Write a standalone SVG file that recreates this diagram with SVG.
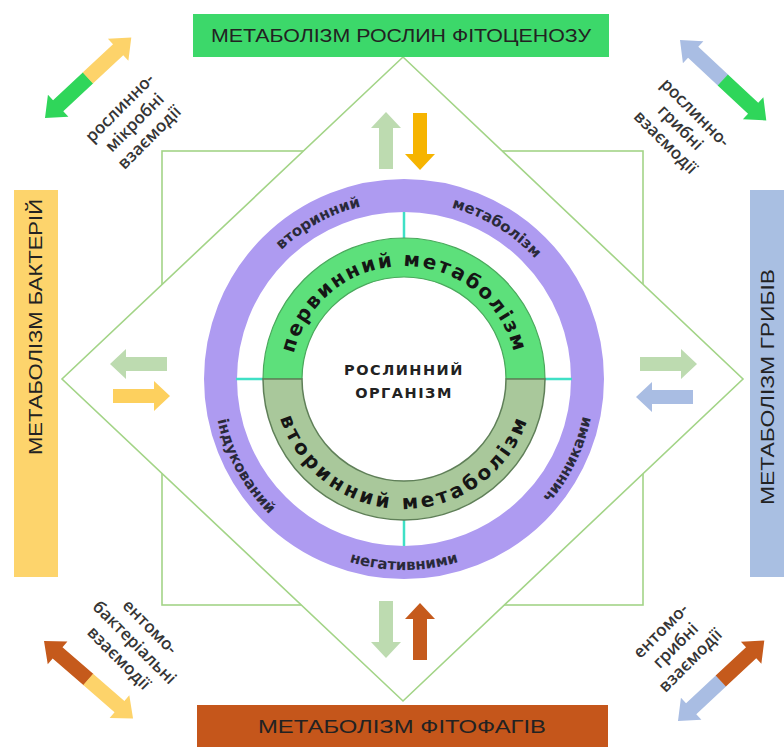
<svg xmlns="http://www.w3.org/2000/svg" xmlns:xlink="http://www.w3.org/1999/xlink" width="784" height="747" viewBox="0 0 784 747">
<style>
.frame{fill:none;stroke:#a3d487;stroke-width:1.6}
.diam{fill:#fff;stroke:#a3d487;stroke-width:1.6}
.ban{font-family:"Liberation Sans",Arial,sans-serif;font-size:18px;fill:#222;text-anchor:middle}
.diag{font-family:"Open Sans","Noto Sans",sans-serif;font-size:17px;font-weight:600;fill:#353535;text-anchor:middle}
.ring{font-family:"DejaVu Sans",Verdana,sans-serif;font-size:15px;font-weight:bold;fill:#2a2a3a;text-anchor:middle}
.gring{font-family:"DejaVu Sans",Verdana,sans-serif;font-size:20px;font-weight:bold;fill:#151515;text-anchor:middle}
.center{font-family:"DejaVu Sans",Verdana,sans-serif;font-size:14.5px;font-weight:bold;fill:#222;text-anchor:middle;letter-spacing:1.5px}
.cyan{stroke:#3fe0c6;stroke-width:2.5}
</style>
<defs>
<path id="arr" d="M0,0 L15,16 L7,16 L7,57 L-7,57 L-7,16 L-15,16 Z"/>
<path id="dhL" d="M0,0 L18,-15 L18,-7.5 L59,-7.5 L59,7.5 L18,7.5 L18,15 Z"/>
<path id="dhR" d="M118,0 L100,-15 L100,-7.5 L58.5,-7.5 L58.5,7.5 L100,7.5 L100,15 Z"/>
<path id="pUp" d="M291,379 A113,113 0 0 1 517,379"/>
<path id="pLo" d="M274,379 A130,130 0 0 0 534,379"/>
<path id="rUp" d="M226,379 A178,178 0 0 1 582,379"/>
<path id="rLo" d="M213,379 A191,191 0 0 0 595,379"/>
</defs>

<g id="frame">
<rect class="frame" x="162" y="151" width="481" height="454"/>
<polygon class="diam" points="403,57 743,379 403,701 62,379"/>
</g>

<g id="connectors">
<use href="#arr" transform="translate(386,112)" fill="#bddbb0"/>
<use href="#arr" transform="translate(420,170) rotate(180)" fill="#f6b400"/>
<use href="#arr" transform="translate(386,658) rotate(180)" fill="#bddbb0"/>
<use href="#arr" transform="translate(420,603)" fill="#c55a1c"/>
<use href="#arr" transform="translate(110,364) rotate(-90)" fill="#bddbb0"/>
<use href="#arr" transform="translate(170,396) rotate(90)" fill="#fdd05e"/>
<use href="#arr" transform="translate(697,364) rotate(90)" fill="#bddbb0"/>
<use href="#arr" transform="translate(636,397) rotate(-90)" fill="#a9bde3"/>
<g transform="translate(45,118) rotate(-43)"><use href="#dhL" fill="#2fd65a"/><use href="#dhR" fill="#fdd36a"/></g>
<g transform="translate(680,40) rotate(43)"><use href="#dhL" fill="#a9bde3"/><use href="#dhR" fill="#2fd65a"/></g>
<g transform="translate(44,641) rotate(41)"><use href="#dhL" fill="#c55a1c"/><use href="#dhR" fill="#fdd36a"/></g>
<g transform="translate(678,721) rotate(-43)"><use href="#dhL" fill="#a9bde3"/><use href="#dhR" fill="#c55a1c"/></g>
</g>

<g id="outer-ring">
<circle cx="404" cy="379" r="183.5" fill="none" stroke="#ae9bf1" stroke-width="33"/>
<text class="ring"><textPath href="#rUp" startOffset="34%">вторинний</textPath></text>
<text class="ring"><textPath href="#rUp" startOffset="67.5%">метаболізм</textPath></text>
<text class="ring"><textPath href="#rLo" startOffset="16%">індукований</textPath></text>
<text class="ring"><textPath href="#rLo" startOffset="50%">негативними</textPath></text>
<text class="ring"><textPath href="#rLo" startOffset="85.5%">чинниками</textPath></text>
</g>

<g id="links">
<line class="cyan" x1="236" y1="379" x2="302" y2="379"/>
<line class="cyan" x1="506" y1="379" x2="572" y2="379"/>
<line class="cyan" x1="404" y1="212" x2="404" y2="238"/>
<line class="cyan" x1="404" y1="520" x2="404" y2="546"/>
</g>

<g id="primary">
<path d="M263,379 A141,141 0 0 1 545,379 L506,379 A102,102 0 0 0 302,379 Z" fill="#5de07b" stroke="#4aa85c" stroke-width="1.2"/>
<text class="gring" letter-spacing="2"><textPath href="#pUp" startOffset="50%">первинний метаболізм</textPath></text>
</g>
<g id="secondary">
<path d="M263,379 A141,141 0 0 0 545,379 L506,379 A102,102 0 0 1 302,379 Z" fill="#a9c89b" stroke="#5f7f58" stroke-width="1.5"/>
<text class="gring" letter-spacing="3.4"><textPath href="#pLo" startOffset="50%">вторинний метаболізм</textPath></text>
</g>
<g id="organism">
<text class="center" x="404" y="375">РОСЛИННИЙ</text>
<text class="center" x="404" y="398">ОРГАНІЗМ</text>
</g>

<g id="top-banner">
<rect x="193" y="14" width="416" height="43" fill="#3cd86a"/>
<text class="ban" x="401" y="42" textLength="380" lengthAdjust="spacingAndGlyphs">МЕТАБОЛІЗМ РОСЛИН ФІТОЦЕНОЗУ</text>
</g>
<g id="left-banner">
<rect x="14" y="190" width="44" height="387" fill="#fdd46c"/>
<text class="ban" transform="translate(42,327) rotate(-90)" textLength="256" lengthAdjust="spacingAndGlyphs">МЕТАБОЛІЗМ БАКТЕРІЙ</text>
</g>
<g id="right-banner">
<rect x="750" y="190" width="34" height="387" fill="#a9bfe2"/>
<text class="ban" transform="translate(774,387) rotate(-90)" textLength="236" lengthAdjust="spacingAndGlyphs">МЕТАБОЛІЗМ ГРИБІВ</text>
</g>
<g id="bottom-banner">
<rect x="197" y="705" width="411" height="42" fill="#c5561b"/>
<text class="ban" x="402" y="733" textLength="288" lengthAdjust="spacingAndGlyphs">МЕТАБОЛІЗМ ФІТОФАГІВ</text>
</g>

<g id="label-tl" transform="translate(135,123) rotate(-45)">
<text class="diag" x="0" y="-16">рослинно-</text>
<text class="diag" x="0" y="5">мікробні</text>
<text class="diag" x="0" y="26">взаємодії</text>
</g>
<g id="label-tr" transform="translate(680,128) rotate(45)">
<text class="diag" x="0" y="-16">рослинно-</text>
<text class="diag" x="0" y="5">грибні</text>
<text class="diag" x="0" y="26">взаємодії</text>
</g>
<g id="label-bl" transform="translate(134,643) rotate(45)">
<text class="diag" x="0" y="-17">ентомо-</text>
<text class="diag" x="0" y="5">бактеріальні</text>
<text class="diag" x="0" y="27">взаємодії</text>
</g>
<g id="label-br" transform="translate(676,646) rotate(-45)">
<text class="diag" x="0" y="-16">ентомо-</text>
<text class="diag" x="0" y="5">грибні</text>
<text class="diag" x="0" y="26">взаємодії</text>
</g>
</svg>
